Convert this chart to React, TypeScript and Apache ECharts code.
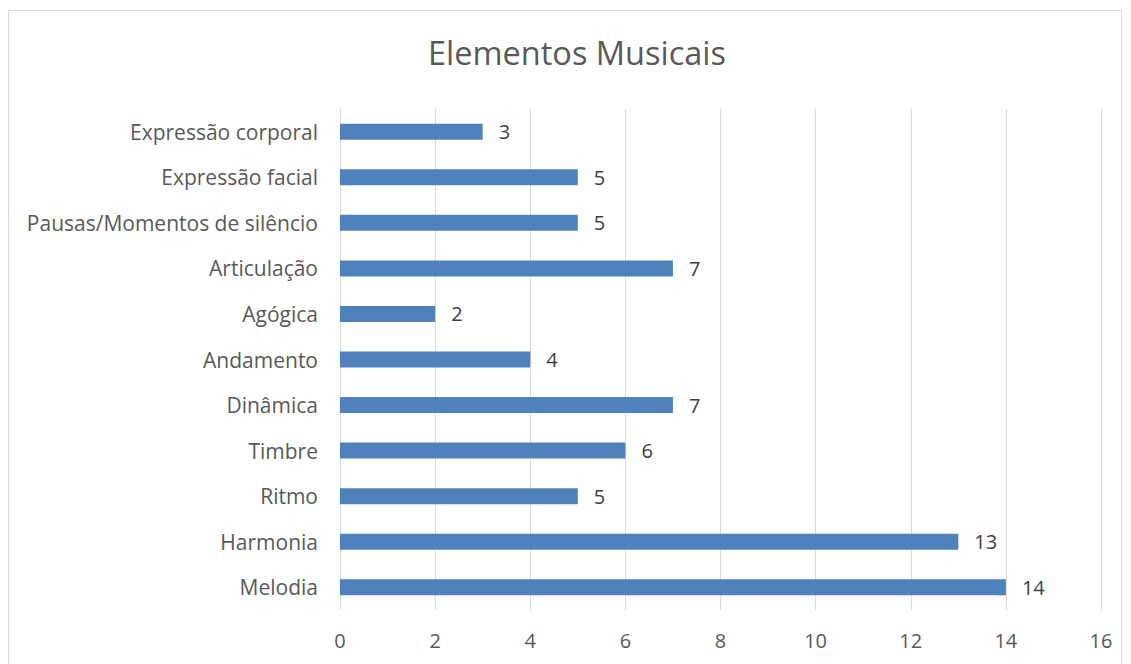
import React, { useEffect, useRef } from "react";
import * as echarts from "echarts";

const categories = [
  "Expressão corporal",
  "Expressão facial",
  "Pausas/Momentos de silêncio",
  "Articulação",
  "Agógica",
  "Andamento",
  "Dinâmica",
  "Timbre",
  "Ritmo",
  "Harmonia",
  "Melodia",
];
const values = [3, 5, 5, 7, 2, 4, 7, 6, 5, 13, 14];
const title = "Elementos Musicais";

const FONT = "'Open Sans', Lato, sans-serif";

export default function App() {
  const ref = useRef<HTMLDivElement>(null);
  useEffect(() => {
    if (!ref.current) return;
    const chart = echarts.init(ref.current, undefined, { renderer: "svg" });
    chart.setOption({
      animation: false,
      backgroundColor: "#ffffff",
      textStyle: { fontFamily: FONT },
      title: {
        text: title,
        left: 428,
        top: 36,
        padding: 0,
        textStyle: { fontFamily: FONT, fontSize: 32.5, fontWeight: "normal", color: "#595959" },
      },
      graphic: [
        {
          type: "rect",
          shape: { x: 8.5, y: 10.5, width: 1113, height: 670 },
          style: { fill: "none", stroke: "#D9D9D9", lineWidth: 1 },
          silent: true,
        },
      ],
      grid: { left: 340, right: 30, top: 109, bottom: 54, containLabel: false },
      xAxis: {
        type: "value",
        min: 0,
        max: 16,
        interval: 2,
        axisLine: { show: false },
        axisTick: { show: false },
        splitLine: { show: true, lineStyle: { color: "#D9D9D9", width: 1 } },
        axisLabel: { fontSize: 20, color: "#595959", margin: 20, fontFamily: FONT },
      },
      yAxis: {
        type: "category",
        data: categories,
        inverse: true,
        axisLine: { show: false },
        axisTick: { show: false },
        axisLabel: { fontSize: 21, color: "#595959", margin: 22, fontFamily: FONT },
      },
      series: [
        {
          type: "bar",
          data: values,
          barWidth: 16,
          itemStyle: { color: "#4F81BD" },
          label: {
            show: true,
            position: "right",
            distance: 16,
            fontSize: 20,
            color: "#404040",
            fontFamily: FONT,
          },
        },
      ],
    });
    return () => chart.dispose();
  }, []);
  return (
    <div
      ref={ref}
      style={{ position: "fixed", left: 0, top: 0, width: 1131, height: 664 }}
    />
  );
}
